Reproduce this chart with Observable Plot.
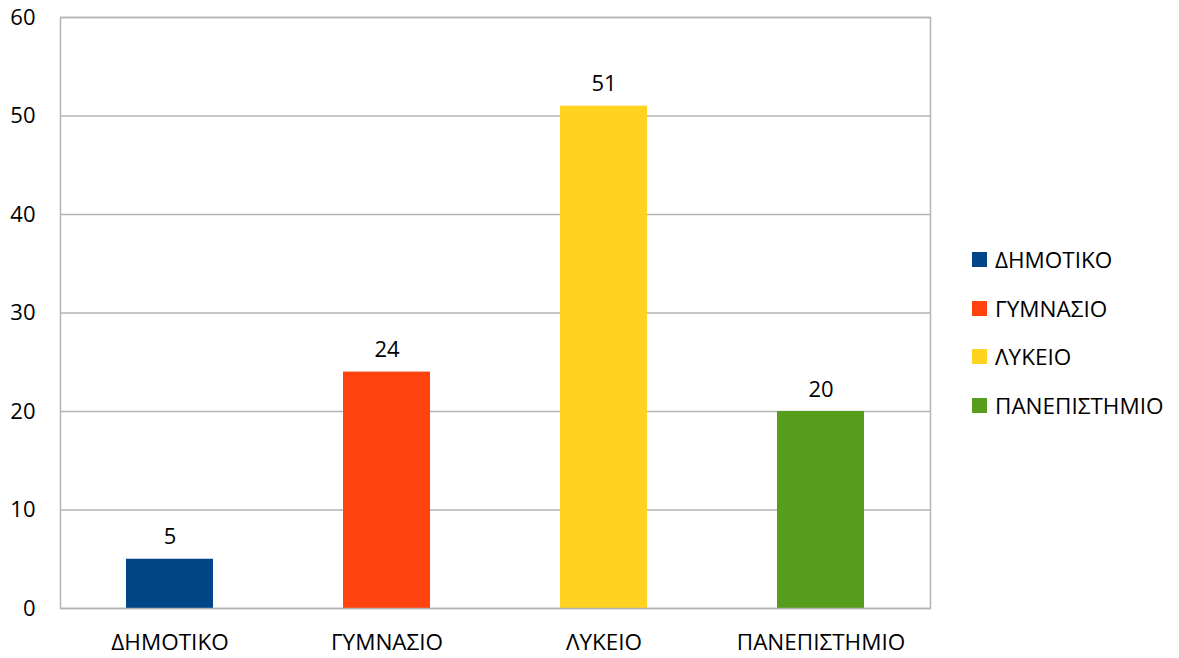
<!DOCTYPE html>
<html>
<head>
<meta charset="utf-8">
<script src="https://cdn.jsdelivr.net/npm/d3@7"></script>
<script src="https://cdn.jsdelivr.net/npm/@observablehq/plot@0.6"></script>
<style>
  body { margin: 0; background: #fff; font-family: "Open Sans", sans-serif; }
  #wrap { position: relative; width: 1179px; height: 658px; }
  #legend { position: absolute; left: 972px; top: 235px; font-size: 22.5px; color: #000; }
  .item { display: flex; align-items: center; height: 48.7px; }
  .sw { width: 15px; height: 15px; margin-right: 8px; flex: none; }
</style>
</head>
<body>
<div id="wrap"></div>
<script>
const categories = ["ΔΗΜΟΤΙΚΟ", "ΓΥΜΝΑΣΙΟ", "ΛΥΚΕΙΟ", "ΠΑΝΕΠΙΣΤΗΜΙΟ"];
const values = [5, 24, 51, 20];
const colors = ["#004586", "#ff420e", "#ffd320", "#579d1c"];
const yTicks = [0, 10, 20, 30, 40, 50, 60];

const data = categories.map((c, i) => ({category: c, value: values[i]}));

const chart = Plot.plot({
  width: 1179,
  height: 658,
  marginLeft: 60,
  marginRight: 249,
  marginTop: 17,
  marginBottom: 50,
  style: {fontFamily: "Open Sans, sans-serif", fontSize: "22px", color: "#000", background: "#fff"},
  x: {domain: categories, paddingInner: 0.6, paddingOuter: 0.3, label: null},
  y: {domain: [0, 60], label: null},
  color: {domain: categories, range: colors},
  marks: [
    Plot.gridY(yTicks, {stroke: "#b3b3b3", strokeOpacity: 1, strokeWidth: 1.5}),
    Plot.barY(data, {x: "category", y: "value", fill: "category"}),
    Plot.frame({stroke: "#b3b3b3", strokeWidth: 1.5}),
    Plot.axisX({tickSize: 0, tickPadding: 26, fontSize: 22.5, fill: "#000", label: null}),
    Plot.axisY(yTicks, {tickSize: 0, tickPadding: 25, fontSize: 22, fill: "#000", label: null}),
    Plot.text(data, {x: "category", y: "value", text: d => String(d.value), dy: -22, fill: "#000", fontSize: 22})
  ]
});
document.getElementById("wrap").appendChild(chart);

const legend = document.createElement("div");
legend.id = "legend";
categories.forEach((c, i) => {
  const item = document.createElement("div");
  item.className = "item";
  const sw = document.createElement("span");
  sw.className = "sw";
  sw.style.background = colors[i];
  const t = document.createElement("span");
  t.textContent = c;
  item.appendChild(sw);
  item.appendChild(t);
  legend.appendChild(item);
});
document.getElementById("wrap").appendChild(legend);
</script>
</body>
</html>
